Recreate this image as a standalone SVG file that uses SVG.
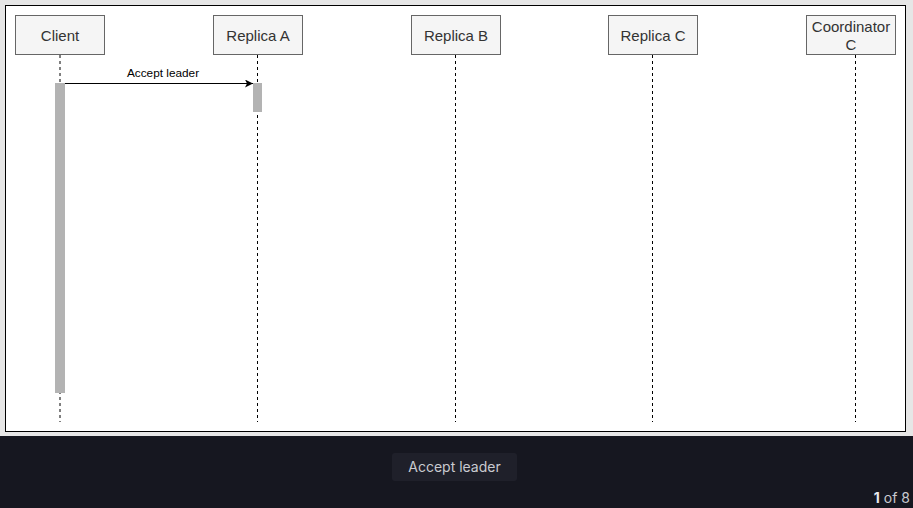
<svg xmlns="http://www.w3.org/2000/svg" width="913" height="508" viewBox="0 0 913 508">
<defs>
<style>
.box{fill:#f5f5f5;stroke:#666666;stroke-width:1}
.lbl{font-family:"Liberation Sans",Arial,sans-serif;font-size:15px;fill:#333333;text-anchor:middle}
.life{stroke:#000000;stroke-width:1;stroke-dasharray:3 3;fill:none}
.act{fill:#b3b3b3}
.msg{font-family:"Liberation Sans",Arial,sans-serif;font-size:11.8px;fill:#000000;text-anchor:middle}
</style>
<marker id="arr" viewBox="0 0 10 10" refX="10" refY="5" markerWidth="8" markerHeight="8" markerUnits="userSpaceOnUse" orient="auto">
<path d="M0,0 L10,5 L0,10 L2.5,5 Z" fill="#000000"/>
</marker>
</defs>
<rect x="0" y="0" width="913" height="436" fill="#e6e6e6"/>
<rect x="5.5" y="5.5" width="900" height="426" fill="#ffffff" stroke="#000000" stroke-width="1"/>
<g id="lifelines">
<line class="life" x1="60" y1="55" x2="60" y2="422"/>
<line class="life" x1="257.5" y1="55" x2="257.5" y2="422"/>
<line class="life" x1="455.5" y1="55" x2="455.5" y2="422"/>
<line class="life" x1="652.5" y1="55" x2="652.5" y2="422"/>
<line class="life" x1="855.5" y1="55" x2="855.5" y2="422"/>
</g>
<g id="client">
<rect class="box" x="15.5" y="15.5" width="89" height="39"/>
<text class="lbl" x="60" y="40.5">Client</text>
<rect class="act" x="55" y="83" width="10" height="310"/>
</g>
<g id="replicaA">
<rect class="box" x="213.5" y="15.5" width="89" height="39"/>
<text class="lbl" x="258" y="40.5">Replica A</text>
<rect class="act" x="253" y="83" width="9" height="29"/>
</g>
<g id="replicaB">
<rect class="box" x="411.5" y="15.5" width="89" height="39"/>
<text class="lbl" x="456" y="40.5">Replica B</text>
</g>
<g id="replicaC">
<rect class="box" x="608.5" y="15.5" width="89" height="39"/>
<text class="lbl" x="653" y="40.5">Replica C</text>
</g>
<g id="coordinatorC">
<rect class="box" x="806.5" y="15.5" width="89" height="39"/>
<text class="lbl" x="851" y="32">Coordinator</text>
<text class="lbl" x="851" y="49.5">C</text>
</g>
<g id="connectors">
<line x1="65" y1="83.5" x2="253" y2="83.5" stroke="#000000" stroke-width="1" marker-end="url(#arr)"/>
<text class="msg" x="163" y="77">Accept leader</text>
</g>
<rect x="0" y="436" width="913" height="72" fill="#161720"/>
<rect x="392" y="453" width="125" height="28" rx="3" fill="#1f202a"/>
<text x="454.5" y="472" font-family="Inter,'Noto Sans',sans-serif" font-size="14" fill="#c9cad0" text-anchor="middle">Accept leader</text>
<text x="910" y="503" font-family="Inter,'Noto Sans',sans-serif" font-size="14" fill="#c9cad0" text-anchor="end"><tspan font-weight="bold" fill="#e8e8ec">1</tspan> of 8</text>
</svg>
